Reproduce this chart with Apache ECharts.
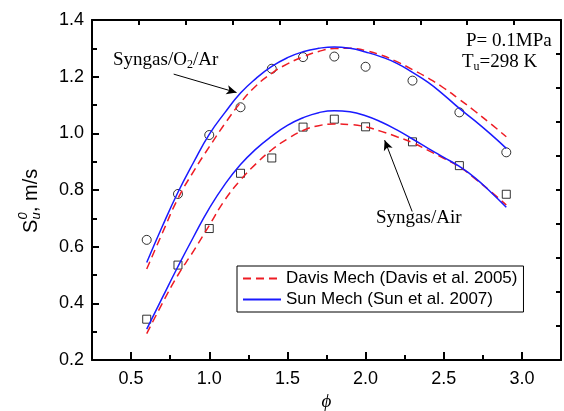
<!DOCTYPE html>
<html>
<head>
<meta charset="utf-8">
<script src="https://cdn.jsdelivr.net/npm/echarts@6/dist/echarts.min.js"></script>
<style>
  html, body { margin: 0; padding: 0; background: #fff; }
  #chart { width: 564px; height: 411px; }
</style>
</head>
<body>
<div id="chart"></div>
<script>
// Equivalence ratio grid of the model curves
const phiModel = [0.6, 0.7, 0.8, 0.9, 1.0, 1.1, 1.2, 1.3, 1.4, 1.5, 1.6, 1.7, 1.8, 1.9, 2.0, 2.1, 2.2, 2.3, 2.4, 2.5, 2.6, 2.7, 2.8, 2.9];

// Davis mechanism, syngas/O2/Ar and syngas/air
const davisO2Ar = [0.521, 0.648, 0.770, 0.866, 0.952, 1.034, 1.108, 1.168, 1.212, 1.245, 1.270, 1.289, 1.299, 1.300, 1.292, 1.276, 1.253, 1.225, 1.195, 1.160, 1.120, 1.078, 1.034, 0.988];
const davisAir  = [0.293, 0.400, 0.500, 0.585, 0.675, 0.765, 0.835, 0.893, 0.942, 0.980, 1.010, 1.027, 1.033, 1.031, 1.023, 1.007, 0.988, 0.967, 0.940, 0.912, 0.882, 0.840, 0.795, 0.747];

// Sun mechanism, syngas/O2/Ar and syngas/air
const sunO2Ar = [0.544, 0.672, 0.792, 0.898, 0.996, 1.073, 1.142, 1.194, 1.236, 1.267, 1.288, 1.300, 1.305, 1.300, 1.287, 1.270, 1.247, 1.215, 1.180, 1.136, 1.088, 1.044, 0.997, 0.947];
const sunAir  = [0.309, 0.420, 0.530, 0.635, 0.735, 0.820, 0.890, 0.945, 0.990, 1.028, 1.055, 1.073, 1.080, 1.076, 1.062, 1.040, 1.012, 0.980, 0.947, 0.915, 0.883, 0.843, 0.793, 0.739];

// Measured flame speeds
const phiExp    = [0.6, 0.8, 1.0, 1.2, 1.4, 1.6, 1.8, 2.0, 2.3, 2.6, 2.9];
const expO2Ar   = [0.624, 0.786, 0.994, 1.092, 1.228, 1.269, 1.271, 1.235, 1.186, 1.074, 0.933];
const expAir    = [0.344, 0.535, 0.664, 0.859, 0.913, 1.022, 1.050, 1.023, 0.970, 0.886, 0.785];

// Axis ticks
const xMajorTicks = [0.5, 1.0, 1.5, 2.0, 2.5, 3.0];
const xMinorTicks = [0.75, 1.25, 1.75, 2.25, 2.75];

const DAVIS = 'Davis Mech (Davis et al. 2005)';
const SUN = 'Sun Mech (Sun et al. 2007)';

const pair = (xs, ys) => xs.map((x, i) => [x, ys[i]]);

const SANS = 'Liberation Sans, Arial, sans-serif';
const SERIF = 'Liberation Serif, Times New Roman, serif';

const red = '#ee1c24';
const blue = '#1a1aff';

const chart = echarts.init(document.getElementById('chart'), null, { renderer: 'canvas' });

const frameLine = { show: true, lineStyle: { color: '#000', width: 2 } };

const option = {
  animation: false,
  backgroundColor: '#fff',
  grid: { left: 92, right: 3, top: 20, bottom: 51, containLabel: false, outerBoundsMode: 'none' },
  xAxis: [
    {
      type: 'value', position: 'bottom', min: 0.25, max: 3.25,
      axisLine: frameLine,
      axisTick: { show: true, inside: true, length: 8, customValues: xMajorTicks, lineStyle: { color: '#000', width: 2 } },
      axisLabel: { customValues: xMajorTicks, margin: 10, fontSize: 18, fontFamily: SANS, color: '#000',
        formatter: v => v.toFixed(1) },
      splitLine: { show: false },
      name: '\u03d5', nameLocation: 'middle', nameGap: 25,
      nameTextStyle: { fontFamily: SERIF, fontStyle: 'italic', fontSize: 19, color: '#000' }
    },
    {
      type: 'value', position: 'bottom', min: 0.25, max: 3.25,
      axisLine: { show: false },
      axisTick: { show: true, inside: true, length: 5, customValues: xMinorTicks, lineStyle: { color: '#000', width: 2 } },
      axisLabel: { show: false },
      splitLine: { show: false }
    },
    {
      type: 'value', position: 'top', min: 0, max: 10, interval: 1,
      axisLine: frameLine,
      axisTick: { show: true, inside: true, length: 5, lineStyle: { color: '#000', width: 2 } },
      axisLabel: { show: false },
      splitLine: { show: false }
    }
  ],
  yAxis: [
    {
      type: 'value', position: 'left', min: 0.2, max: 1.4, interval: 0.2,
      axisLine: frameLine,
      axisTick: { show: true, inside: true, length: 7, lineStyle: { color: '#000', width: 2 } },
      minorTick: { show: true, splitNumber: 2, length: 5, lineStyle: { color: '#000', width: 2 } },
      axisLabel: { margin: 8, fontSize: 18, fontFamily: SANS, color: '#000', formatter: v => v.toFixed(1) },
      splitLine: { show: false }
    },
    {
      type: 'value', position: 'right', min: 0, max: 10, interval: 1,
      axisLine: frameLine,
      axisTick: { show: true, inside: true, length: 5, lineStyle: { color: '#000', width: 2 } },
      axisLabel: { show: false },
      splitLine: { show: false }
    }
  ],
  legend: {
    orient: 'vertical', left: 237, top: 266,
    data: [DAVIS, SUN],
    itemWidth: 38, itemHeight: 17, itemGap: 4,
    padding: [4, 6, 4, 5],
    borderColor: '#000', borderWidth: 1, backgroundColor: '#fff',
    itemStyle: { opacity: 0 },
    textStyle: { fontSize: 17, fontFamily: SANS, color: '#000' }
  },
  series: [
    { name: DAVIS, type: 'line', data: pair(phiModel, davisO2Ar), smooth: true, symbol: 'none',
      lineStyle: { color: red, width: 1.5, type: [8, 5] }, itemStyle: { color: red } },
    { name: DAVIS, type: 'line', data: pair(phiModel, davisAir), smooth: true, symbol: 'none',
      lineStyle: { color: red, width: 1.5, type: [8, 5] }, itemStyle: { color: red } },
    { name: SUN, type: 'line', data: pair(phiModel, sunO2Ar), smooth: true, symbol: 'none',
      lineStyle: { color: blue, width: 1.5 }, itemStyle: { color: blue } },
    { name: SUN, type: 'line', data: pair(phiModel, sunAir), smooth: true, symbol: 'none',
      lineStyle: { color: blue, width: 1.5 }, itemStyle: { color: blue } },
    { name: 'Syngas/O2/Ar', type: 'scatter', data: pair(phiExp, expO2Ar), symbol: 'circle', symbolSize: 9,
      itemStyle: { color: 'rgba(255,255,255,0)', borderColor: '#000', borderWidth: 1 },
      markLine: {
        silent: true, symbol: ['none', 'arrow'], symbolSize: [7, 10],
        label: { show: false },
        lineStyle: { color: '#000', width: 1, type: 'solid' },
        data: [[{ coord: [0.7725, 1.209] }, { coord: [1.1745, 1.144] }]]
      }
    },
    { name: 'Syngas/Air', type: 'scatter', data: pair(phiExp, expAir), symbol: 'rect', symbolSize: 8,
      itemStyle: { color: 'rgba(255,255,255,0)', borderColor: '#000', borderWidth: 1 },
      markLine: {
        silent: true, symbol: ['none', 'arrow'], symbolSize: [7, 10],
        label: { show: false },
        lineStyle: { color: '#000', width: 1, type: 'solid' },
        data: [[{ coord: [2.298, 0.724] }, { coord: [2.122, 0.976] }]]
      }
    }
  ],
  graphic: [
    { type: 'text', left: 113, top: 51, silent: true,
      style: { text: '{a|Syngas/O}{s|2}{a|/Ar}', fill: '#000',
        rich: { a: { fontFamily: SERIF, fontSize: 19, fill: '#000' },
                s: { fontFamily: SERIF, fontSize: 12, fill: '#000', verticalAlign: 'bottom', padding: [8, 0, 0, 0] } } } },
    { type: 'text', left: 466, top: 32, silent: true,
      style: { text: 'P= 0.1MPa', font: '19px ' + SERIF, fill: '#000' } },
    { type: 'text', left: 462, top: 53, silent: true,
      style: { text: '{a|T}{s|u}{a|=298 K}', fill: '#000',
        rich: { a: { fontFamily: SERIF, fontSize: 19, fill: '#000' },
                s: { fontFamily: SERIF, fontSize: 12, fill: '#000', verticalAlign: 'bottom', padding: [9, 0, 0, 0] } } } },
    { type: 'text', left: 376, top: 209, silent: true,
      style: { text: 'Syngas/Air', font: '19px ' + SERIF, fill: '#000' } },
    { type: 'group', x: 31, y: 233, rotation: Math.PI / 2, silent: true,
      children: [
        { type: 'text', x: 0, y: 0, style: { text: 'S', font: '20px ' + SANS, fill: '#000', verticalAlign: 'middle', align: 'left' } },
        { type: 'text', x: 13.5, y: -8, style: { text: '0', font: 'italic 13px ' + SANS, fill: '#000', verticalAlign: 'middle', align: 'left' } },
        { type: 'text', x: 13.5, y: 5, style: { text: 'u', font: 'italic 13px ' + SANS, fill: '#000', verticalAlign: 'middle', align: 'left' } },
        { type: 'text', x: 21, y: 0, style: { text: ', m/s', font: '20px ' + SANS, fill: '#000', verticalAlign: 'middle', align: 'left' } }
      ] }
  ]
};

chart.setOption(option);
</script>
</body>
</html>
